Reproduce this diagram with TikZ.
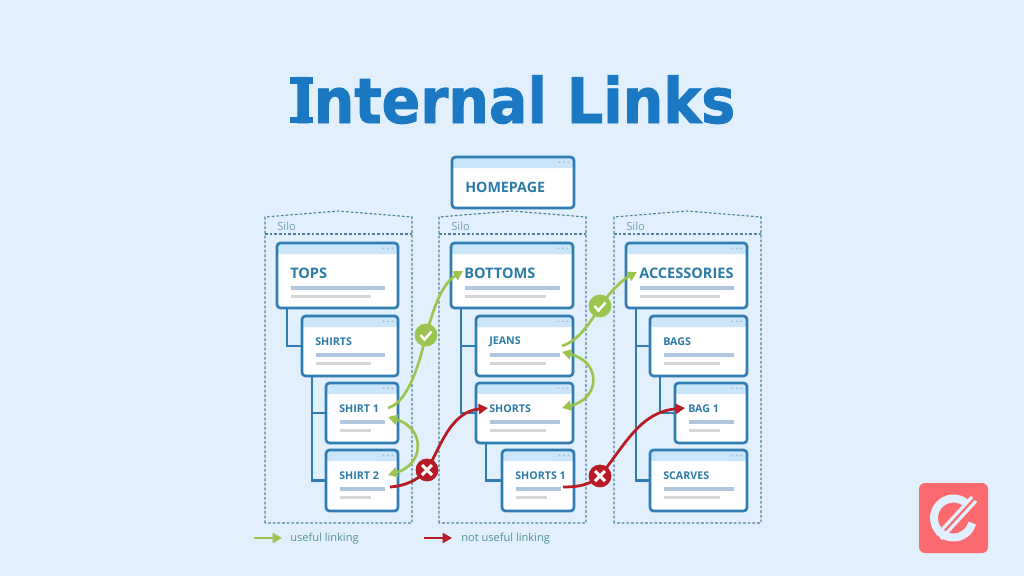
\documentclass[tikz,border=0pt]{standalone}
\usepackage{fontspec}
\setmainfont{Open Sans}
\newfontfamily\titlefont[BoldFeatures={FakeStretch=0.91,FakeBold=1.5}]{DejaVu Sans}
\usetikzlibrary{arrows.meta}
\definecolor{bgc}{HTML}{E1F0FC}
\definecolor{framec}{HTML}{2F7DB2}
\definecolor{headc}{HTML}{CBE5FA}
\definecolor{dotc}{HTML}{A9C3D6}
\definecolor{linea}{HTML}{AFC6DF}
\definecolor{lineb}{HTML}{D5D6D8}
\definecolor{labc}{HTML}{2D7BA8}
\definecolor{titlec}{HTML}{1B78C3}
\definecolor{goodc}{HTML}{9CC54F}
\definecolor{badc}{HTML}{B71C26}
\definecolor{siloc}{HTML}{4F8296}
\definecolor{silot}{HTML}{6FA0B0}
\definecolor{legc}{HTML}{4E9296}
\definecolor{logoc}{HTML}{FA6A6F}
\tikzset{
  pagebox/.style={draw=framec,line width=2pt,fill=white,rounded corners=2.6pt,inner sep=0pt,outer sep=0pt,
    path picture={
      \fill[headc] (path picture bounding box.north west) rectangle ([yshift=-8.4pt]path picture bounding box.north east);
      \foreach \d in {4.2,7.6,11}{\fill[dotc] ([xshift=-\d pt,yshift=-4pt]path picture bounding box.north east) circle (0.85pt);}
    }},
  pagelabel/.style={anchor=west,inner sep=0pt,text=labc,font=\bfseries},
  treeline/.style={draw=framec,line width=2.2pt},
  silobox/.style={draw=siloc,line width=0.85pt,dash pattern=on 2pt off 1.5pt},
  silolabel/.style={anchor=west,inner sep=0pt,text=silot,font=\fontsize{8.4}{10}\selectfont},
  goodlink/.style={draw=goodc,line width=2pt,-{Triangle[length=7pt,width=7.5pt]}},
  goodboth/.style={draw=goodc,line width=2pt,{Triangle[length=7pt,width=7.5pt]}-{Triangle[length=7pt,width=7.5pt]}},
  badlink/.style={draw=badc,line width=2.1pt,-{Triangle[length=7pt,width=7.5pt]}},
  goodmark/.style={circle,fill=goodc,minimum size=17pt,inner sep=0pt},
  badmark/.style={circle,fill=badc,minimum size=17pt,inner sep=0pt},
  legendtext/.style={anchor=west,inner sep=0pt,text=legc,font=\fontsize{8.3}{10}\selectfont},
  logostroke/.style={draw=bgc,line cap=butt},
}
% name, x1, y1, x2, y2, label, label size(pt), label dy, line-y a
\newcommand{\pagecard}[9]{%
  \pgfmathsetmacro{\cw}{(#4-#2)*0.75}\pgfmathsetmacro{\ch}{(#5-#3)*0.75}%
  \node[pagebox,minimum width=\cw pt,minimum height=\ch pt] (#1) at ({(#2+#4)/2},{(#3+#5)/2}) {};%
  \node[pagelabel,font=\bfseries\fontsize{#7}{#7}\selectfont] (#1-t) at ({#2+13},{#3+#8}) {#6};%
  \ifx\relax#9\relax\else
  \draw[linea,line width=2.5pt] ({#2+13.5},{#3+#9}) -- ({#4-13},{#3+#9});%
  \draw[lineb,line width=2.5pt] ({#2+13.5},{#3+#9+8.5}) -- ({#4-27},{#3+#9+8.5});%
  \fi}
\begin{document}
\begin{tikzpicture}[x=0.75pt,y=-0.75pt]
\useasboundingbox (0,0) rectangle (1024,576);
\fill[bgc] (0,0) rectangle (1024,576);
\node[inner sep=0pt,anchor=base east,text=titlec,font=\titlefont\bfseries\fontsize{47}{50}\selectfont] (title) at (735.5,123) {Internal Links};
% slab ends of the title's capital I
\fill[titlec] (290,77) rectangle (313,83.5);
\fill[titlec] (290,116.5) rectangle (313,123);

% silos
\foreach \x/\n in {265/a,439/b,614/c}{
  \draw[silobox] (\x,523) -- (\x,217) -- (\x+73,211) -- (\x+147,217) -- (\x+147,523) -- cycle;
  \draw[silobox] (\x,234) -- (\x+147,234);
  \node[silolabel] (silo\n) at (\x+12,226) {Silo};
}

% pages first so trees can name them
\pagecard{home}{452}{157}{574}{208}{HOMEPAGE}{10.7}{30}{}
\pagecard{tops}{277}{243}{398}{308}{TOPS}{10.9}{30}{45}
\pagecard{shirts}{302}{316}{398}{376}{SHIRTS}{8}{25.6}{39}
\pagecard{shirta}{326}{383}{398}{443}{SHIRT 1}{8}{25.6}{39}
\pagecard{shirtb}{326}{450}{398}{511}{SHIRT 2}{8}{25.6}{39}
\pagecard{bottoms}{451}{243}{573}{308}{BOTTOMS}{10.9}{30}{45}
\pagecard{jeans}{476}{316}{573}{376}{JEANS}{8}{25.6}{39}
\pagecard{shorts}{476}{383}{573}{443}{SHORTS}{8}{25.6}{39}
\pagecard{shortsa}{502}{450}{574}{511}{SHORTS 1}{8}{25.6}{39}
\pagecard{acc}{626}{243}{747}{308}{ACCESSORIES}{10.9}{30}{45}
\pagecard{bags}{650}{316}{747}{376}{BAGS}{8}{25.6}{39}
\pagecard{baga}{675}{383}{747}{443}{BAG 1}{8}{25.6}{39}
\pagecard{scarves}{650}{450}{747}{511}{SCARVES}{8}{25.6}{39}

% trees
\draw[treeline] ([xshift=7.5pt]tops.south west) |- (shirts.west);
\draw[treeline] ([xshift=7.5pt]shirts.south west) |- (shirta.west);
\draw[treeline] ([xshift=7.5pt]shirts.south west) |- (shirtb.west);
\draw[treeline] ([xshift=7.5pt]bottoms.south west) |- (jeans.west);
\draw[treeline] ([xshift=7.5pt]bottoms.south west) |- (shorts.west);
\draw[treeline] ([xshift=7.5pt]shorts.south west) |- (shortsa.west);
\draw[treeline] ([xshift=7.5pt]acc.south west) |- (bags.west);
\draw[treeline] ([xshift=7.5pt]acc.south west) |- (scarves.west);
\draw[treeline] ([xshift=7.5pt]bags.south west) |- (baga.west);

% link ends
\coordinate (g1s) at (388,408);
\coordinate (g1e) at (463,271);
\coordinate (g2s) at (562,346);
\coordinate (g2e) at (637,272);
\coordinate (g3a) at (388,417);
\coordinate (g3b) at (388,475);
\coordinate (g4a) at (562,352);
\coordinate (g4b) at (562,408);
\coordinate (r1s) at (390,487);
\coordinate (r1e) at (488,408);
\coordinate (r2s) at (563,487);
\coordinate (r2e) at (685,408);
\node[goodmark] (ok1) at (426,335) {};
\node[goodmark] (ok2) at (600,306) {};
\node[badmark] (no1) at (427,470) {};
\node[badmark] (no2) at (600,476) {};

\draw[goodlink] (g1s) .. controls (405,403) and (417,375) .. (ok1.center) .. controls (432,315) and (440,285) .. (g1e);
\draw[goodlink] (g2s) .. controls (575,342) and (588,328) .. (ok2.center) .. controls (612,290) and (622,280) .. (g2e);
\draw[goodboth] (g3a) .. controls (425,428) and (425,464) .. (g3b);
\draw[goodboth] (g4a) .. controls (601,362) and (601,398) .. (g4b);
\draw[badlink] (r1s) .. controls (405,486) and (418,480) .. (no1.center) .. controls (440,448) and (450,412) .. (r1e);
\draw[badlink] (r2s) .. controls (578,487) and (590,485) .. (no2.center) .. controls (625,445) and (640,412) .. (r2e);

% marks redrawn on top of the links
\foreach \m/\c in {ok1/goodc,ok2/goodc,no1/badc,no2/badc}{\fill[\c] (\m) circle (11.2);}
\foreach \m in {ok1,ok2}{\draw[white,line width=1.9pt] (\m) ++(-5.5,0) -- ++(4,4.5) -- ++(7,-8);}
\foreach \m in {no1,no2}{
  \draw[white,line width=2.2pt] (\m) ++(-5,-5) -- ++(10,10);
  \draw[white,line width=2.2pt] (\m) ++(5,-5) -- ++(-10,10);
}

% legend
\coordinate (la) at (254,538); \coordinate (lb) at (282,538);
\coordinate (lc) at (424,538); \coordinate (ld) at (452,538);
\draw[goodlink] (la) -- (lb);
\draw[badlink] (lc) -- (ld);
\node[legendtext] (lt1) at (290,539) {useful linking};
\node[legendtext] (lt2) at (461,539) {not useful linking};

% logo
\fill[logoc,rounded corners=4.5pt] (919,483) rectangle (988,553);
\draw[logostroke,line width=6pt] (966.5,503.5) arc[start angle=-48,end angle=-345,radius=19.5];
\draw[logostroke,line width=2.4pt] (972,497) -- (937,535);
\draw[logostroke,line width=2.4pt] (976,501) -- (941,539);
\end{tikzpicture}
\end{document}
